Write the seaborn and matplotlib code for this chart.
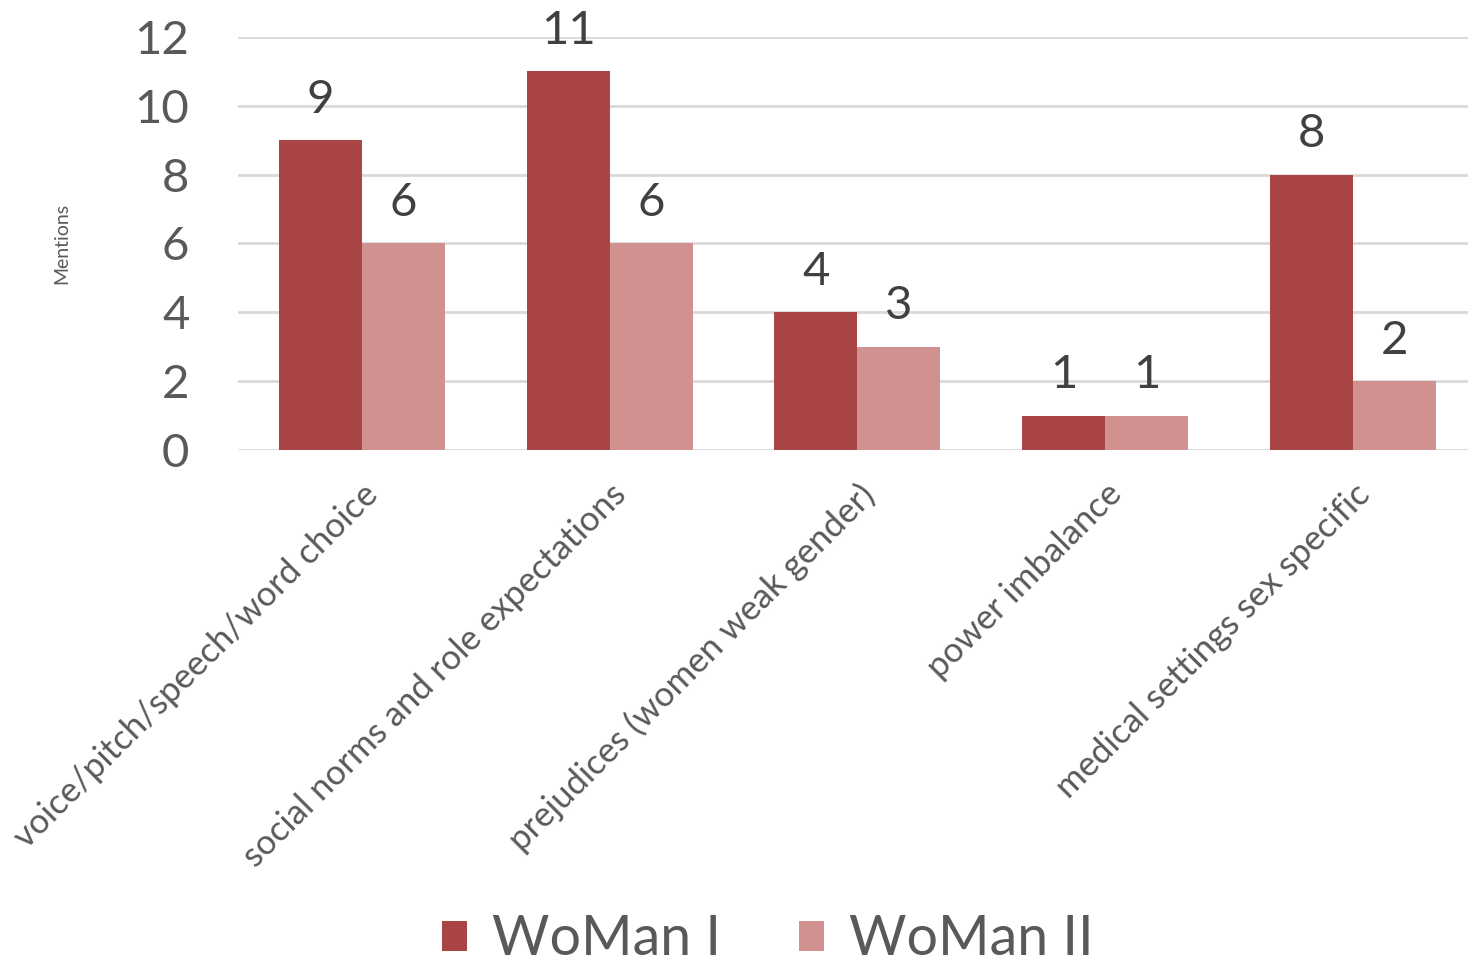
import pandas as pd
import seaborn as sns
import matplotlib.pyplot as plt

# data
categories = [
    "voice/pitch/speech/word choice",
    "social norms and role expectations",
    "prejudices (women weak gender)",
    "power imbalance",
    "medical settings sex specific",
]
woman_1 = [9, 11, 4, 1, 8]
woman_2 = [6, 6, 3, 1, 2]
series_names = ["WoMan I", "WoMan II"]
y_ticks = [0, 2, 4, 6, 8, 10, 12]

df = pd.DataFrame({
    "category": categories * 2,
    "mentions": woman_1 + woman_2,
    "series": [series_names[0]] * len(categories) + [series_names[1]] * len(categories),
})

sns.set_theme(style="white")
plt.rcParams["font.family"] = ["Lato", "DejaVu Sans"]

fig = plt.figure(figsize=(14.68, 9.65), dpi=100)
ax = fig.add_axes([0.1621, 0.5337, 0.844, 0.428])

palette = {"WoMan I": "#A94544", "WoMan II": "#D29191"}
sns.barplot(data=df, x="category", y="mentions", hue="series", palette=palette,
            width=0.67, linewidth=0, saturation=1, ax=ax, legend=True)

for c in ax.containers:
    ax.bar_label(c, padding=14, fontsize=34, color="#404040")

ax.set_ylim(0, 12)
ax.set_xlim(-0.5, 4.5)
ax.set_yticks(y_ticks)
ax.yaxis.grid(True, color="#D9D9D9", linewidth=2)
ax.set_axisbelow(True)
for s in ax.spines.values():
    s.set_visible(False)
ax.tick_params(axis="y", labelsize=34, labelcolor="#595959", length=0, pad=35)
ax.tick_params(axis="x", labelsize=25, labelcolor="#595959", length=0, pad=20)
plt.setp(ax.get_xticklabels(), rotation=45, ha="right", va="top", rotation_mode="anchor")
ax.set_xlabel("")
ax.set_ylabel("Mentions", fontsize=14, color="#595959", labelpad=46)

handles, labels = ax.get_legend_handles_labels()
ax.legend_.remove()
fig.legend(handles, labels, loc="center", bbox_to_anchor=(0.523, 0.026), ncol=2,
           frameon=False, fontsize=40, labelcolor="#595959", handlelength=0.45,
           handleheight=0.45, handletextpad=0.45, columnspacing=1.4)

fig.savefig("out.png", dpi=100)
